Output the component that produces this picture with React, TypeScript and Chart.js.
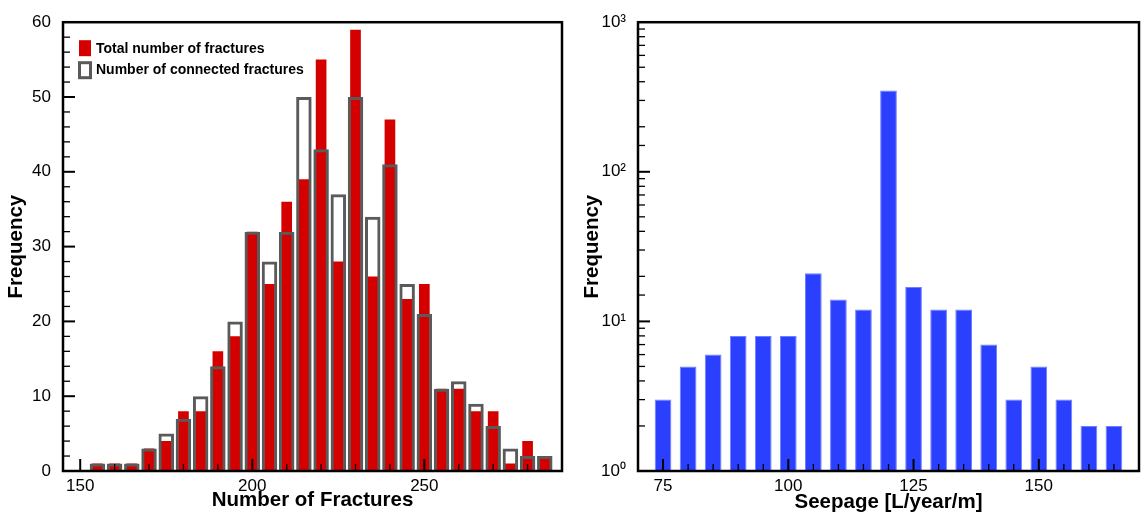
import React, { useEffect, useRef } from 'react';
import { Chart, registerables } from 'chart.js';

Chart.register(...registerables);

// ---- Data ----
const fractureBins = [155, 160, 165, 170, 175, 180, 185, 190, 195, 200, 205, 210, 215, 220, 225, 230, 235, 240, 245, 250, 255, 260, 265, 270, 275, 280, 285];
const totalFractures = [1, 1, 1, 3, 4, 8, 8, 16, 18, 32, 25, 36, 39, 55, 28, 59, 26, 47, 23, 25, 11, 11, 8, 8, 1, 4, 2];
const connectedFractures = [1, 1, 1, 3, 5, 7, 10, 14, 20, 32, 28, 32, 50, 43, 37, 50, 34, 41, 25, 21, 11, 12, 9, 6, 3, 2, 2];

const seepageBins = [75, 80, 85, 90, 95, 100, 105, 110, 115, 120, 125, 130, 135, 140, 145, 150, 155, 160, 165];
const seepageFreq = [3, 5, 6, 8, 8, 8, 21, 14, 12, 350, 17, 12, 12, 7, 3, 5, 3, 2, 2];

const leftXMajor = [150, 200, 250];
const rightXMajor = [75, 100, 125, 150];
const superscripts = ['\u2070', '\u00b9', '\u00b2', '\u00b3'];

const legendLabels = ['Total number of fractures', 'Number of connected fractures'];
const titles = {
  leftX: 'Number of Fractures',
  leftY: 'Frequency',
  rightX: 'Seepage [L/year/m]',
  rightY: 'Frequency',
};

const FONT = '"Liberation Sans", Arial, Helvetica, sans-serif';
const RED = '#d40000';
const GRAY = '#5a5a5a';
const BLUE = '#2b40ff';

const isPow10 = (v: number) => {
  const e = Math.log10(v);
  return Math.abs(e - Math.round(e)) < 1e-9;
};

function makeFramePlugin(isMajorX: (v: number) => boolean, isMajorY: (v: number) => boolean) {
  return {
    id: 'frameTicks',
    afterDatasetsDraw(chart: any) {
      const { ctx, chartArea: ca } = chart;
      const xs = chart.scales.x;
      const ys = chart.scales.y;
      ctx.save();
      ctx.strokeStyle = '#000';
      xs.ticks.forEach((t: any) => {
        const px = xs.getPixelForValue(t.value);
        if (px <= ca.left + 1 || px >= ca.right - 1) return;
        const major = isMajorX(t.value);
        ctx.lineWidth = major ? 2 : 1.3;
        ctx.beginPath();
        ctx.moveTo(px, ca.bottom);
        ctx.lineTo(px, ca.bottom - (major ? 12 : 7));
        ctx.stroke();
      });
      ys.ticks.forEach((t: any) => {
        const py = ys.getPixelForValue(t.value);
        if (py <= ca.top + 1 || py >= ca.bottom - 1) return;
        const major = isMajorY(t.value);
        ctx.lineWidth = major ? 2 : 1.3;
        ctx.beginPath();
        ctx.moveTo(ca.left, py);
        ctx.lineTo(ca.left + (major ? 12 : 7), py);
        ctx.stroke();
      });
      ctx.lineWidth = 2.5;
      ctx.strokeRect(ca.left, ca.top, ca.right - ca.left, ca.bottom - ca.top);
      ctx.restore();
    },
  };
}

const legendPlugin = {
  id: 'insideLegend',
  afterDraw(chart: any) {
    const { ctx, chartArea: ca } = chart;
    ctx.save();
    const x0 = ca.left + 16;
    const y0 = ca.top + 18;
    ctx.fillStyle = RED;
    ctx.fillRect(x0, y0, 12, 16);
    ctx.fillStyle = '#fff';
    ctx.fillRect(x0 - 1, y0 + 21, 14, 18);
    ctx.strokeStyle = GRAY;
    ctx.lineWidth = 3;
    ctx.strokeRect(x0 - 1 + 1.5, y0 + 21 + 1.5, 11, 15);
    ctx.fillStyle = '#000';
    ctx.font = `bold 14px ${FONT}`;
    ctx.textBaseline = 'middle';
    ctx.textAlign = 'left';
    ctx.fillText(legendLabels[0], x0 + 17, y0 + 9);
    ctx.fillText(legendLabels[1], x0 + 17, y0 + 30);
    ctx.restore();
  },
};

function LeftChart() {
  const ref = useRef<HTMLCanvasElement>(null);
  useEffect(() => {
    const chart = new Chart(ref.current as HTMLCanvasElement, {
      type: 'bar',
      data: {
        datasets: [
          {
            label: legendLabels[0],
            data: fractureBins.map((b, i) => ({ x: b, y: totalFractures[i] })),
            backgroundColor: RED,
            borderWidth: 0,
            barPercentage: 0.62,
            categoryPercentage: 1,
            grouped: false,
            order: 2,
          } as any,
          {
            label: legendLabels[1],
            data: fractureBins.map((b, i) => ({ x: b, y: connectedFractures[i] })),
            backgroundColor: 'rgba(0,0,0,0)',
            borderColor: GRAY,
            borderWidth: 3,
            borderSkipped: 'start',
            barPercentage: 0.9,
            categoryPercentage: 1,
            grouped: false,
            order: 1,
          } as any,
        ],
      },
      options: {
        animation: false,
        responsive: false,
        maintainAspectRatio: false,
        layout: { padding: { left: 0, top: 17, right: 11, bottom: 0 } },
        plugins: { legend: { display: false }, tooltip: { enabled: false } },
        scales: {
          x: {
            type: 'linear',
            min: 145,
            max: 290,
            offset: false,
            grid: { display: false, drawTicks: false },
            border: { display: false },
            ticks: {
              stepSize: 10,
              includeBounds: false,
              autoSkip: false,
              maxRotation: 0,
              padding: 5,
              color: '#000',
              font: { family: FONT, size: 17 },
              callback: (v: any) => (leftXMajor.includes(Number(v)) ? String(v) : ''),
            },
            title: {
              display: true,
              text: titles.leftX,
              color: '#000',
              font: { family: FONT, size: 20.5, weight: 'bold' },
              padding: { top: 0, bottom: 5 },
            },
            afterFit: (s: any) => { s.height = 47; },
          } as any,
          y: {
            type: 'linear',
            min: 0,
            max: 60,
            grid: { display: false, drawTicks: false },
            border: { display: false },
            ticks: {
              stepSize: 2,
              autoSkip: false,
              padding: 12,
              color: '#000',
              font: { family: FONT, size: 17 },
              callback: (v: any) => (Number(v) % 10 === 0 ? String(v) : ''),
            },
            title: {
              display: true,
              text: titles.leftY,
              color: '#000',
              font: { family: FONT, size: 20.5, weight: 'bold' },
              padding: { top: 4, bottom: 0 },
            },
            afterFit: (s: any) => { s.width = 63; },
          } as any,
        },
      },
      plugins: [
        makeFramePlugin((v) => leftXMajor.includes(v), (v) => v % 10 === 0),
        legendPlugin,
      ],
    } as any);
    return () => chart.destroy();
  }, []);
  return (
    <canvas
      ref={ref}
      width={573}
      height={518}
      style={{ position: 'absolute', left: 0, top: 0, width: 573, height: 518 }}
    />
  );
}

function RightChart() {
  const ref = useRef<HTMLCanvasElement>(null);
  useEffect(() => {
    const chart = new Chart(ref.current as HTMLCanvasElement, {
      type: 'bar',
      data: {
        datasets: [
          {
            label: 'Seepage',
            data: seepageBins.map((b, i) => ({ x: b, y: seepageFreq[i] })),
            backgroundColor: BLUE,
            borderColor: '#6f80ff',
            borderWidth: 1,
            borderSkipped: 'start',
            barPercentage: 0.667,
            categoryPercentage: 1,
          } as any,
        ],
      },
      options: {
        animation: false,
        responsive: false,
        maintainAspectRatio: false,
        layout: { padding: { left: 0, top: 14, right: 7, bottom: 0 } },
        plugins: { legend: { display: false }, tooltip: { enabled: false } },
        scales: {
          x: {
            type: 'linear',
            min: 70,
            max: 170,
            offset: false,
            grid: { display: false, drawTicks: false },
            border: { display: false },
            ticks: {
              stepSize: 5,
              includeBounds: false,
              autoSkip: false,
              maxRotation: 0,
              padding: 5,
              color: '#000',
              font: { family: FONT, size: 17 },
              callback: (v: any) => (rightXMajor.includes(Number(v)) ? String(v) : ''),
            },
            title: {
              display: true,
              text: titles.rightX,
              color: '#000',
              font: { family: FONT, size: 20.5, weight: 'bold' },
              padding: { top: 0, bottom: 3 },
            },
            afterFit: (s: any) => { s.height = 47; },
          } as any,
          y: {
            type: 'logarithmic',
            min: 1,
            max: 1000,
            grid: { display: false, drawTicks: false },
            border: { display: false },
            ticks: {
              autoSkip: false,
              padding: 12,
              color: '#000',
              font: { family: FONT, size: 17 },
              callback: (v: any) => {
                const n = Number(v);
                if (!isPow10(n)) return '';
                return '10' + superscripts[Math.round(Math.log10(n))];
              },
            },
            title: {
              display: true,
              text: titles.rightY,
              color: '#000',
              font: { family: FONT, size: 20.5, weight: 'bold' },
              padding: { top: 7, bottom: 0 },
            },
            afterFit: (s: any) => { s.width = 65; },
          } as any,
        },
      },
      plugins: [makeFramePlugin((v) => rightXMajor.includes(v), (v) => isPow10(v))],
    } as any);
    return () => chart.destroy();
  }, []);
  return (
    <canvas
      ref={ref}
      width={573}
      height={518}
      style={{ position: 'absolute', left: 573, top: 0, width: 573, height: 518 }}
    />
  );
}

export default function App() {
  return (
    <div style={{ position: 'fixed', left: 0, top: 0, width: 1146, height: 518, background: '#fff' }}>
      <LeftChart />
      <RightChart />
    </div>
  );
}
